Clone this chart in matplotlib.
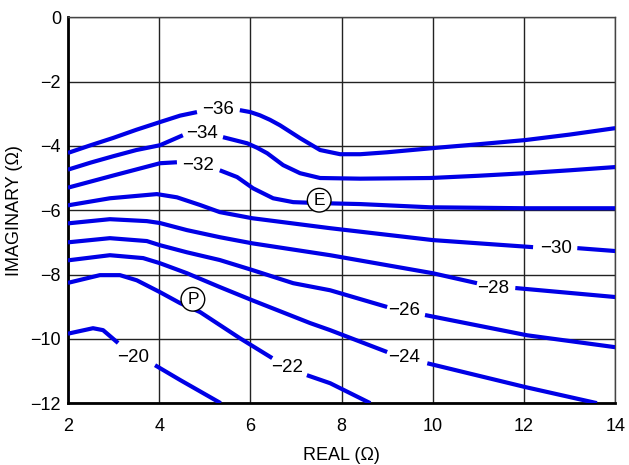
import matplotlib.pyplot as plt
import numpy as np

plt.rcParams['font.family'] = ['Liberation Sans', 'DejaVu Sans']

# contour lines: (real, imaginary) points
c36_x = [2.0, 2.5, 3.0, 3.5, 4.02, 4.46, 4.83, 5.77, 6.0, 6.21, 6.43, 6.65, 7.09, 7.53, 7.97, 8.41, 9.0, 10.0, 11.0, 12.03, 13.0, 14.0]
c36_y = [-4.22, -3.98, -3.75, -3.5, -3.26, -3.06, -2.95, -2.89, -2.95, -3.05, -3.19, -3.36, -3.76, -4.13, -4.26, -4.26, -4.2, -4.07, -3.95, -3.82, -3.65, -3.45]

c34_x = [2.0, 2.5, 3.0, 3.5, 4.02, 4.52, 5.40, 5.93, 6.15, 6.37, 6.72, 7.09, 7.53, 8.41, 9.94, 11.0, 12.03, 13.0, 14.0]
c34_y = [-4.74, -4.52, -4.32, -4.13, -3.98, -3.67, -3.73, -3.92, -4.06, -4.23, -4.60, -4.85, -5.00, -5.02, -5.0, -4.93, -4.85, -4.76, -4.66]

c32_x = [2.0, 3.0, 4.02, 4.39, 5.33, 5.71, 6.06, 6.50, 6.94, 7.51, 8.41, 9.94, 12.03, 14.0]
c32_y = [-5.30, -4.92, -4.54, -4.51, -4.76, -4.97, -5.32, -5.63, -5.75, -5.78, -5.81, -5.91, -5.94, -5.94]

c30_x = [2.0, 2.92, 3.95, 4.39, 4.90, 5.33, 6.04, 7.75, 10.0, 12.2, 13.17, 14.0]
c30_y = [-5.85, -5.63, -5.50, -5.60, -5.84, -6.06, -6.25, -6.56, -6.93, -7.15, -7.18, -7.27]

c28_x = [2.0, 2.92, 3.73, 4.02, 4.61, 5.33, 6.04, 7.75, 10.0, 10.97, 11.81, 14.0]
c28_y = [-6.41, -6.28, -6.34, -6.40, -6.62, -6.84, -7.03, -7.40, -7.96, -8.27, -8.42, -8.70]

c26_x = [2.0, 2.92, 3.73, 4.02, 4.61, 5.33, 6.04, 6.94, 7.75, 9.0, 9.83, 12.07, 14.0]
c26_y = [-7.00, -6.87, -6.96, -7.09, -7.31, -7.55, -7.86, -8.27, -8.49, -9.01, -9.26, -9.89, -10.26]

c24_x = [2.0, 2.92, 3.65, 4.02, 4.61, 5.33, 6.04, 7.31, 7.75, 9.0, 9.88, 12.03, 13.6]
c24_y = [-7.56, -7.40, -7.49, -7.65, -7.96, -8.39, -8.80, -9.51, -9.73, -10.41, -10.76, -11.50, -12.0]

c22_x = [2.0, 2.70, 3.14, 3.51, 4.02, 4.46, 4.90, 5.77, 6.48, 7.24, 7.75, 8.63]
c22_y = [-8.26, -8.02, -8.02, -8.18, -8.55, -8.89, -9.17, -9.98, -10.60, -11.13, -11.38, -12.0]

c20_x = [2.0, 2.55, 2.77, 3.10, 3.91, 4.46, 5.35]
c20_y = [-9.84, -9.67, -9.73, -10.13, -10.82, -11.28, -12.0]

contours = [(c36_x, c36_y), (c34_x, c34_y), (c32_x, c32_y), (c30_x, c30_y), (c28_x, c28_y),
            (c26_x, c26_y), (c24_x, c24_y), (c22_x, c22_y), (c20_x, c20_y)]

# where each line breaks for its label (real axis)
gap_start = [4.83, 4.52, 4.39, 12.2, 10.97, 9.0, 9.0, 6.48, 3.10]
gap_end = [5.77, 5.40, 5.33, 13.17, 11.81, 9.83, 9.88, 7.24, 3.91]

# contour labels
lab_text = ['\u221236', '\u221234', '\u221232', '\u221230', '\u221228', '\u221226', '\u221224', '\u221222', '\u221220']
lab_x = [5.29, 4.94, 4.85, 12.71, 11.32, 9.37, 9.37, 6.80, 3.43]
lab_y = [-2.86, -3.61, -4.60, -7.18, -8.42, -9.11, -10.57, -10.88, -10.57]

# marked points
mark_text = ['E', 'P']
mark_x = [7.51, 4.74]
mark_y = [-5.69, -8.77]

xticks = [2, 4, 6, 8, 10, 12, 14]
yticks = [0, -2, -4, -6, -8, -10, -12]

fig = plt.figure(figsize=(6.29, 4.65), dpi=100)
ax = fig.add_axes([0.108, 0.133, 0.870, 0.830])

for (cx, cy), g0, g1 in zip(contours, gap_start, gap_end):
    cx = np.array(cx)
    cy = np.array(cy)
    left = cx <= g0
    right = cx >= g1
    for m in [left, right]:
        ax.plot(cx[m], cy[m], color='#0000e6', lw=3, solid_capstyle='butt',
                solid_joinstyle='round', zorder=3)

for t, x, y in zip(lab_text, lab_x, lab_y):
    ax.text(x, y, t, ha='center', va='center', fontsize=13.5, zorder=5)

for t, x, y in zip(mark_text, mark_x, mark_y):
    ax.text(x, y, t, ha='center', va='center', fontsize=12.5, zorder=6,
            bbox=dict(boxstyle='circle,pad=0.25', fc='white', ec='black', lw=1))

ax.set_xlim(2, 14)
ax.set_ylim(-12, 0)
ax.set_xticks(xticks)
ax.set_yticks(yticks)
ax.set_xticklabels([str(v) for v in xticks])
ax.set_yticklabels([str(v).replace('-', '\u2212') for v in yticks])
ax.tick_params(length=0, labelsize=13)
ax.tick_params(axis='x', pad=11)
ax.tick_params(axis='y', pad=5)
ax.grid(True, color='#222222', lw=1)
ax.set_axisbelow(True)

for s in ['left', 'bottom']:
    ax.spines[s].set_linewidth(2)
for s in ['top', 'right']:
    ax.spines[s].set_linewidth(1)
    ax.spines[s].set_color('#444444')

ax.set_xlabel('REAL (\u03a9)', fontsize=13, labelpad=8)
ax.set_ylabel('IMAGINARY (\u03a9)', fontsize=13, labelpad=5)

fig.savefig('out.png', dpi=100)
